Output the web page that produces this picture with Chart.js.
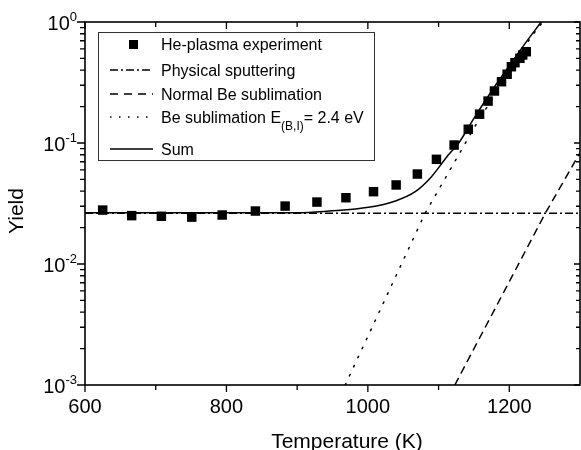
<!DOCTYPE html>
<html><head><meta charset="utf-8">
<script src="https://cdn.jsdelivr.net/npm/chart.js@4/dist/chart.umd.min.js"></script>
<style>html,body{margin:0;padding:0;background:#fff;overflow:hidden}#wrap{width:581px;height:450px;position:relative}</style>
</head><body><div id="wrap"><canvas id="c" width="581" height="450"></canvas></div>
<script>
// ---- data ----
const expT = [625,666,708,751,794,841,883,928,969,1008,1040,1070,1097,1122,1142,1158,1170,1179,1189,1197,1203,1208,1215,1219,1224];
const expY = [0.0279,0.0251,0.0248,0.0244,0.0254,0.0274,0.0301,0.0325,0.0353,0.0396,0.045,0.0554,0.0733,0.0962,0.130,0.173,0.222,0.269,0.321,0.370,0.427,0.461,0.501,0.534,0.568];
const physT = [600,1300];
const physY = [0.0263,0.0263];
const normT = [1123,1251,1300];
const normY = [0.001,0.0263,0.083];
const subT = [968,1081,1135,1151,1230,1250];
const subY = [0.001,0.0263,0.093,0.136,0.74,1.05];
const sumT = [600,900,945,1001,1039,1067,1090,1114,1128,1150,1178,1200,1222,1245,1255];
const sumY = [0.0265,0.0265,0.0274,0.0294,0.0332,0.0396,0.0527,0.08,0.099,0.16,0.285,0.435,0.66,1.0,1.2];
const xMajor = [600,800,1000,1200];
const xMinor = [700,900,1100];
const yDecades = [0.001,0.01,0.1,1];
const yExp = ['-3','-2','-1','0'];
const yMinorMult = [2,3,4,5,6,7,8,9];
const legendLabels = ['He-plasma experiment','Physical sputtering','Normal Be sublimation','Be sublimation E','Sum'];
const xTitle = 'Temperature (K)';
const yTitle = 'Yield';

const FONT = '"Liberation Sans", Arial, Helvetica, sans-serif';
const pts = (T,Y) => T.map((t,i)=>({x:t,y:Y[i]}));

const lineDs = (label, T, Y, dash, extra) => Object.assign({
  label, data: pts(T,Y), showLine:true, borderColor:'#000', backgroundColor:'#000',
  borderWidth:1.5, borderDash:dash, pointRadius:0, fill:false, tension:0
}, extra||{});

const frame = {
  id:'frame',
  afterDatasetsDraw(chart){
    const {ctx, chartArea:a, scales:{x,y}} = chart;
    ctx.save();
    ctx.strokeStyle='#000'; ctx.lineWidth=1.6; ctx.lineCap='butt';
    ctx.strokeRect(a.left,a.top,a.right-a.left,a.bottom-a.top);
    ctx.lineWidth=1.3;
    ctx.beginPath();
    const xt = (v,L)=>{const p=x.getPixelForValue(v);
      ctx.moveTo(p,a.bottom); ctx.lineTo(p,a.bottom+L);
      ctx.moveTo(p,a.top); ctx.lineTo(p,a.top+L);};
    xMajor.forEach(v=>xt(v,7)); xMinor.forEach(v=>xt(v,5));
    const yt = (v,Lo,Li)=>{const p=y.getPixelForValue(v);
      ctx.moveTo(a.left,p); ctx.lineTo(a.left-Lo,p);
      ctx.moveTo(a.right,p); ctx.lineTo(a.right-Li,p);};
    yDecades.forEach(d=>yt(d,8,6));
    yDecades.slice(0,3).forEach(d=>yMinorMult.forEach(m=>yt(m*d,5,4)));
    ctx.stroke();
    // y tick labels with superscript
    ctx.fillStyle='#000';
    yDecades.forEach((d,i)=>{
      const p=y.getPixelForValue(d);
      ctx.font='13px '+FONT; ctx.textBaseline='alphabetic'; ctx.textAlign='right';
      const sw=ctx.measureText(yExp[i]).width;
      ctx.fillText(yExp[i], 77, p-1);
      ctx.font='20px '+FONT;
      ctx.fillText('10', 77-sw, p+7.5);
    });
    // axis titles
    ctx.font='21px '+FONT; ctx.textAlign='center'; ctx.textBaseline='alphabetic';
    ctx.fillText(xTitle, 347, 448);
    ctx.save(); ctx.translate(23,211); ctx.rotate(-Math.PI/2);
    ctx.fillText(yTitle,0,0); ctx.restore();
    // legend
    ctx.lineWidth=1; ctx.strokeStyle='#333';
    ctx.strokeRect(98.5,32.5,276,128);
    ctx.strokeStyle='#000'; ctx.fillStyle='#000';
    ctx.fillRect(129,40,9,9);
    const rows=[[70,[8,3,2,3]],[94,[8,6]],[117,[1.5,7.5]],[149,[]]];
    ctx.lineWidth=1.5;
    rows.forEach(([yy,dash])=>{ctx.setLineDash(dash);ctx.beginPath();ctx.moveTo(110,yy);ctx.lineTo(153,yy);ctx.stroke();});
    ctx.setLineDash([]);
    ctx.font='16px '+FONT; ctx.textAlign='left'; ctx.textBaseline='alphabetic';
    const ys=[44,70,94,117,149];
    legendLabels.forEach((t,i)=>ctx.fillText(t,161,ys[i]+6));
    let xx=161+ctx.measureText(legendLabels[3]).width;
    ctx.font='12px '+FONT; ctx.fillText('(B,I)',xx,117+13);
    xx+=ctx.measureText('(B,I)').width;
    ctx.font='16px '+FONT; ctx.fillText('= 2.4 eV',xx,117+6);
    ctx.restore();
  }
};

new Chart(document.getElementById('c'),{
  type:'scatter',
  data:{datasets:[
    {label:legendLabels[0], data:pts(expT,expY), pointStyle:'rect', pointRadius:6.7, pointHoverRadius:6.7,
     backgroundColor:'#000', borderColor:'#000', borderWidth:0, showLine:false},
    lineDs(legendLabels[4], sumT, sumY, [], {cubicInterpolationMode:'monotone'}),
    lineDs(legendLabels[3], subT, subY, [1.6,8.4], {borderCapStyle:'round'}),
    lineDs(legendLabels[2], normT, normY, [8,5]),
    lineDs(legendLabels[1], physT, physY, [8,3,2,3])
  ]},
  options:{
    responsive:false, animation:false, devicePixelRatio:1,
    layout:{autoPadding:false, padding:{top:22,right:1,left:0,bottom:0}},
    plugins:{legend:{display:false}, tooltip:{enabled:false}},
    scales:{
      x:{type:'linear', min:600, max:1300,
         grid:{display:false, drawTicks:false, tickLength:0}, border:{display:false},
         ticks:{stepSize:100, autoSkip:false, maxRotation:0, padding:10, color:'#000',
                font:{family:FONT,size:20},
                callback:v=>xMajor.includes(v)?String(v):''},
         afterFit:s=>{s.height=65; s.paddingLeft=0; s.paddingRight=0;}},
      y:{type:'logarithmic', min:0.001, max:1,
         grid:{display:false, drawTicks:false}, border:{display:false},
         ticks:{display:false},
         afterFit:s=>{s.width=85; s.paddingTop=0; s.paddingBottom=0;}}
    }
  },
  plugins:[frame]
});
</script></body></html>
